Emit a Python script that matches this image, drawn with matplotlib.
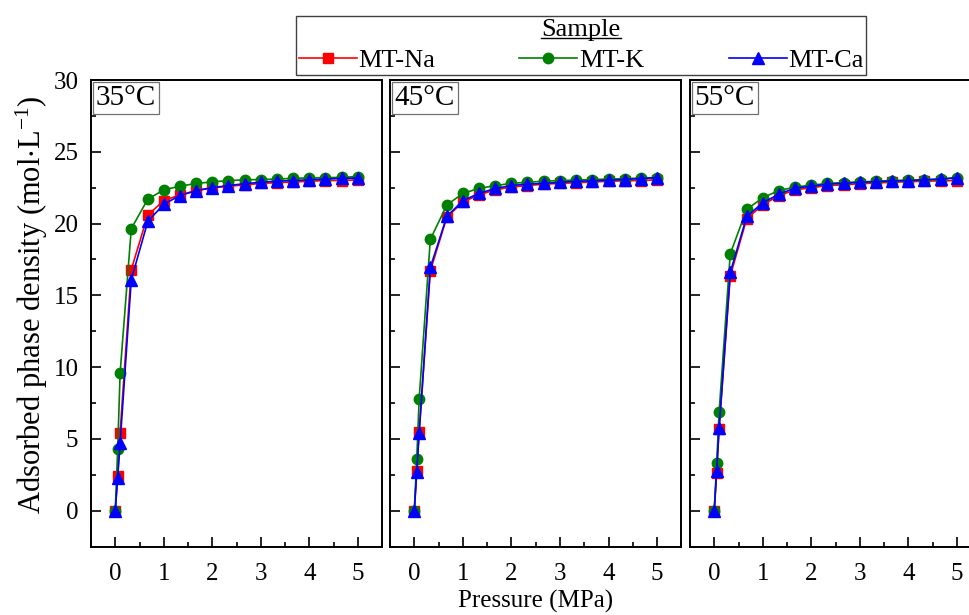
import matplotlib
matplotlib.use("Agg")
import matplotlib.pyplot as plt
from matplotlib.lines import Line2D
from matplotlib.ticker import MultipleLocator

plt.rcParams["font.family"] = ["Liberation Serif", "DejaVu Serif"]
plt.rcParams["mathtext.fontset"] = "custom"
plt.rcParams["mathtext.rm"] = "Liberation Serif"
plt.rcParams["mathtext.default"] = "regular"

# pressure (MPa), shared by all isotherms
pressure = [0, 0.05, 0.1, 0.33, 0.67, 1.0, 1.33, 1.67, 2.0, 2.33, 2.67, 3.0,
            3.33, 3.67, 4.0, 4.33, 4.67, 5.0]
temps = ["35°C", "45°C", "55°C"]
samples = ["MT-Na", "MT-K", "MT-Ca"]

# adsorbed phase density (mol/L)
na_35 = [0, 2.45, 5.45, 16.8, 20.6, 21.6, 22.0, 22.3, 22.5, 22.6, 22.7, 22.8, 22.85, 22.9, 22.95, 23.0, 23.0, 23.05]
k_35 = [0, 4.3, 9.6, 19.65, 21.7, 22.35, 22.6, 22.8, 22.9, 23.0, 23.05, 23.07, 23.1, 23.15, 23.18, 23.2, 23.22, 23.28]
ca_35 = [0, 2.3, 4.7, 16.1, 20.15, 21.35, 21.95, 22.3, 22.5, 22.65, 22.78, 22.88, 22.95, 23.0, 23.05, 23.1, 23.15, 23.17]

na_45 = [0, 2.75, 5.5, 16.7, 20.45, 21.5, 22.0, 22.35, 22.55, 22.65, 22.75, 22.8, 22.85, 22.9, 22.95, 22.98, 23.0, 23.05]
k_45 = [0, 3.6, 7.8, 18.9, 21.3, 22.1, 22.45, 22.65, 22.8, 22.88, 22.95, 23.0, 23.03, 23.07, 23.1, 23.13, 23.17, 23.21]
ca_45 = [0, 2.7, 5.4, 16.95, 20.5, 21.6, 22.1, 22.45, 22.65, 22.75, 22.8, 22.87, 22.95, 22.98, 23.02, 23.07, 23.14, 23.2]

na_55 = [0, 2.65, 5.7, 16.35, 20.35, 21.3, 21.95, 22.35, 22.5, 22.65, 22.7, 22.78, 22.83, 22.88, 22.92, 22.95, 22.98, 23.0]
k_55 = [0, 3.3, 6.85, 17.9, 21.0, 21.8, 22.3, 22.55, 22.67, 22.8, 22.86, 22.9, 22.95, 23.0, 23.02, 23.05, 23.1, 23.2]
ca_55 = [0, 2.8, 5.75, 16.6, 20.5, 21.45, 22.05, 22.48, 22.6, 22.75, 22.8, 22.88, 22.92, 22.97, 23.0, 23.05, 23.1, 23.19]

panels = [(na_35, k_35, ca_35), (na_45, k_45, ca_45), (na_55, k_55, ca_55)]
colors = ["#ff0000", "#008000", "#0000ff"]
markers = ["s", "o", "^"]
msizes = [7.5, 7.5, 8.5]

fig = plt.figure(figsize=(9.7, 6.15), dpi=100)
lefts = [0.0938, 0.4021, 0.7113]
handles = []
for i, (left, temp, series) in enumerate(zip(lefts, temps, panels)):
    ax = fig.add_axes([left, 0.1111, 0.3003, 0.7588])
    for j, ys in enumerate(series):
        h, = ax.plot(pressure, ys, color=colors[j], lw=1.2, marker=markers[j],
                     ms=msizes[j], mec=colors[j], label=samples[j], zorder=2 + j)
        if i == 0:
            handles.append(h)
    ax.set_xlim(-0.5, 5.5)
    ax.set_ylim(-2.5, 30)
    ax.xaxis.set_major_locator(MultipleLocator(1))
    ax.xaxis.set_minor_locator(MultipleLocator(0.5))
    ax.yaxis.set_major_locator(MultipleLocator(5))
    ax.yaxis.set_minor_locator(MultipleLocator(2.5))
    ax.tick_params(which="both", direction="in", width=1.2, labelsize=18)
    ax.tick_params(axis="x", pad=11.5)
    ax.tick_params(axis="y", pad=9)
    ax.tick_params(which="major", length=7)
    ax.tick_params(which="minor", length=3.5)
    if i > 0:
        ax.tick_params(axis="y", labelleft=False)
    for s in ax.spines.values():
        s.set_linewidth(1.4)
    ax.text(0.016, 0.99, temp, transform=ax.transAxes, fontsize=21, va="top", ha="left",
            bbox=dict(boxstyle="square,pad=0.1", fc="white", ec="#707070", lw=0.9), zorder=10)

fig.text(32 / 970, 1 - 305 / 615, "Adsorbed phase density (mol$\\cdot$L$^{-1}$)",
         rotation=90, ha="center", va="center", fontsize=22)
fig.text(536 / 970, 1 - 608 / 615, "Pressure (MPa)", ha="center", va="baseline", fontsize=18)

leg = fig.legend(handles=handles, loc="center", bbox_to_anchor=(581 / 970, 1 - 45.5 / 615),
                 ncol=3, fontsize=19, title="Sample", title_fontsize=19, fancybox=False,
                 edgecolor="#404040", framealpha=1, handlelength=2.2, handletextpad=0.05,
                 columnspacing=3.2, borderpad=0.12, labelspacing=0.3, borderaxespad=0)
leg.get_frame().set_linewidth(1.0)

# underline the legend title
fig.canvas.draw()
bb = leg.get_title().get_window_extent(fig.canvas.get_renderer()).transformed(fig.transFigure.inverted())
fig.add_artist(Line2D([bb.x0, bb.x1], [bb.y0 + 0.004, bb.y0 + 0.004], color="black", lw=1.0,
                      transform=fig.transFigure, zorder=20))

fig.savefig("out.png", dpi=100)
